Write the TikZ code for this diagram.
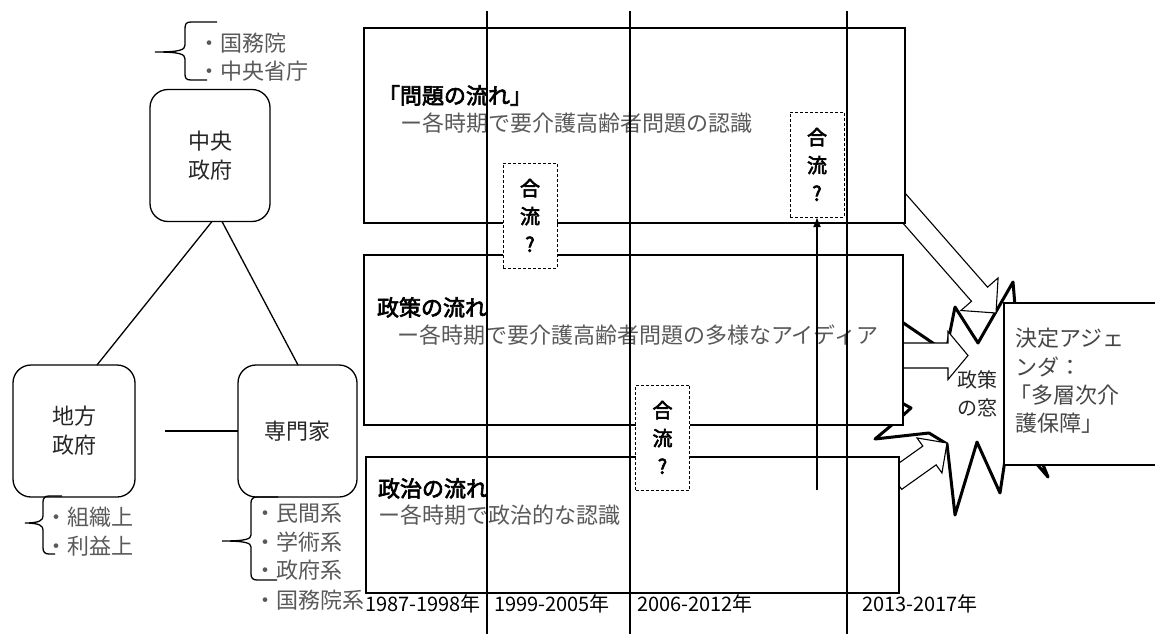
\documentclass[tikz,border=0pt]{standalone}
\usepackage{fontspec}
\setmainfont{Noto Sans CJK JP}
\newfontfamily\jpbold[FakeBold=3]{Noto Sans CJK JP}
\usetikzlibrary{calc,arrows.meta}

\newcommand{\blockarrow}[5]{%
  \path (#1) coordinate (ba-s) (#2) coordinate (ba-t);
  \path ($(ba-t)!#5!(ba-s)$) coordinate (ba-b);
  \draw[blockar] ($(ba-s)!#3!90:(ba-t)$) -- ($(ba-b)!#3!-90:(ba-s)$) -- ($(ba-b)!#4!-90:(ba-s)$) -- (ba-t) -- ($(ba-b)!#4!90:(ba-s)$) -- ($(ba-b)!#3!90:(ba-s)$) -- ($(ba-s)!#3!-90:(ba-t)$) -- cycle;
}

\tikzset{
  every node/.style={inner sep=0pt, outer sep=0pt},
  fs/.style={font=\fontsize{22}{29}\selectfont},
  rbox/.style={draw, line width=1.3pt, rounded corners=18pt, fill=white, minimum width=120pt, minimum height=132pt, align=center, fs, text=black!85},
  bigbox/.style={draw, line width=1.4pt, fill=white},
  lbl/.style={anchor=west, text height=0.88em, text depth=0.12em, fs},
  desc/.style={lbl, text=black!65},
  ttl/.style={lbl, font=\fontsize{22}{29}\selectfont\jpbold, text=black},
  yr/.style={lbl, font=\fontsize{20}{29}\selectfont, text=black},
  brace/.style={line width=1.3pt},
  conn/.style={line width=1.3pt},
  vline/.style={line width=1.4pt},
  merge/.style={draw, line width=1pt, dash pattern=on 3pt off 2pt, fill=white, minimum width=54pt, minimum height=105pt, align=center, font=\fontsize{20}{28}\selectfont\jpbold},
  blockar/.style={draw, line width=1.1pt, fill=white, line join=miter},
  boom/.style={draw, line width=3pt, fill=white, line join=round},
}

\begin{document}
\begin{tikzpicture}[x=1pt, y=-1pt]
\useasboundingbox (0,0) rectangle (1155,634);

% explosion (policy window)
\draw[boom] (1013,282) -- (1016,318) -- (1090,318) -- (1070,360) -- (1110,400) -- (1060,425) -- (1035,445) -- (1048,477) -- (1022,447) -- (1008,440) -- (1000,493) -- (977,442) -- (955,515) -- (947,444) -- (929,433) -- (875,439) -- (899,419) -- (911,408) -- (860,380) -- (880,307) -- (946,352) -- (955,307) -- (978,343) -- cycle;

% block arrows into the window
\blockarrow{895.4,198.3}{996,313}{10.7pt}{24.7pt}{25pt}
\blockarrow{895,355.5}{968,355.5}{12.5pt}{24pt}{20pt}
\blockarrow{895,480}{947,443}{11.5pt}{21.5pt}{21.5pt}

% big stream boxes
\node[bigbox, minimum width=541pt, minimum height=195pt] (prob) at (634.5,125.5) {};
\node[bigbox, minimum width=539pt, minimum height=170pt] (pol) at (633.5,340) {};
\node[bigbox, minimum width=533pt, minimum height=136pt] (polit) at (632.5,525) {};

% agenda box
\node[draw, line width=1.1pt, fill=white, minimum width=153pt, minimum height=162pt] (agenda) at (1080.5,384) {};

% window label
\node[align=center, font=\fontsize{20}{28}\selectfont, text=black!85] (win) at (977,394) {政策\\の窓};

% agenda text
\node[desc, text=black!72] (ag1) at (1015,343) {決定アジェ};
\node[desc, text=black!72] (ag2) at (1015,372) {ンダ：};
\node[desc, text=black!72] (ag3) at (1009,400) {「多層次介};
\node[desc, text=black!72] (ag4) at (1015,428) {護保障」};

% stream texts
\node[ttl] (t1) at (378,100) {「問題の流れ」};
\node[desc] (d1) at (400,128) {ー各時期で要介護高齢者問題の認識};
\node[ttl] (t2) at (377,312) {政策の流れ};
\node[desc] (d2) at (397,340) {ー各時期で要介護高齢者問題の多様なアイディア};
\node[ttl] (t3) at (378,493) {政治の流れ};
\node[desc] (d3) at (378,520) {ー各時期で政治的な認識};

% period lines
\coordinate (v1t) at (487,11); \coordinate (v1b) at (487,634);
\coordinate (v2t) at (630,11); \coordinate (v2b) at (630,634);
\coordinate (v3t) at (847,11); \coordinate (v3b) at (847,634);
\draw[vline] (v1t) -- (v1b);
\draw[vline] (v2t) -- (v2b);
\draw[vline] (v3t) -- (v3b);

% year labels
\node[yr] (y1) at (365,608) {1987-1998年};
\node[yr] (y2) at (494,608) {1999-2005年};
\node[yr] (y3) at (637,608) {2006-2012年};
\node[yr] (y4) at (862,608) {2013-2017年};

% merge boxes
\node[merge] (m1) at (530,215.5) {合\\流\\?};
\node[merge] (m2) at (817,164.5) {合\\流\\?};
\node[merge] (m3) at (662.5,437.5) {合\\流\\?};

\coordinate (arrS) at (817,490);
\draw[line width=1.6pt, -{Latex[length=10pt,width=8pt]}] (arrS) -- (m2.south);

% actors
\node[rbox] (cg) at (210,155.5) {中央\\政府};
\node[rbox, minimum width=122pt] (lg) at (74,431) {地方\\政府};
\node[rbox, minimum width=119pt] (ex) at (297.5,431) {専門家};

\draw[conn] ([xshift=2pt]cg.south) -- ([xshift=23pt]lg.north);
\draw[conn] ([xshift=12pt]cg.south) -- ([xshift=0.5pt]ex.north);
\coordinate (hl) at (165,431);
\draw[conn] (hl) -- (ex.west);

% braces
\draw[brace] (217,22) -- (191,22) .. controls (186,22) and (185,24) .. (185,29) -- (185,45) .. controls (185,50) and (180,52) .. (155,52) .. controls (180,52) and (185,54) .. (185,59) -- (185,74) .. controls (185,78) and (186,80) .. (191,80) -- (207,80);
\draw[brace] (62,496) -- (49,496) .. controls (45,496) and (43,498) .. (43,502) -- (43,516) .. controls (43,520) and (40,523) .. (25,523) .. controls (40,523) and (43,526) .. (43,530) -- (43,548) .. controls (43,552) and (45,554) .. (49,554) -- (55,554);
\draw[brace] (278,497) -- (257,497) .. controls (253,497) and (251,499) .. (251,503) -- (251,535) .. controls (251,539) and (246,541) .. (222,541) .. controls (246,541) and (251,543) .. (251,547) -- (251,574) .. controls (251,578) and (253,580) .. (257,580) -- (277,580);

% lists
\node[desc] (c1) at (198,48) {・国務院};
\node[desc] (c2) at (198,76) {・中央省庁};
\node[desc] (l1) at (45,522) {・組織上};
\node[desc] (l2) at (45,551) {・利益上};
\node[desc] (e1) at (254,518) {・民間系};
\node[desc] (e2) at (254,547) {・学術系};
\node[desc] (e3) at (254,575) {・政府系};
\node[desc] (e4) at (254,605) {・国務院系};
\end{tikzpicture}
\end{document}
